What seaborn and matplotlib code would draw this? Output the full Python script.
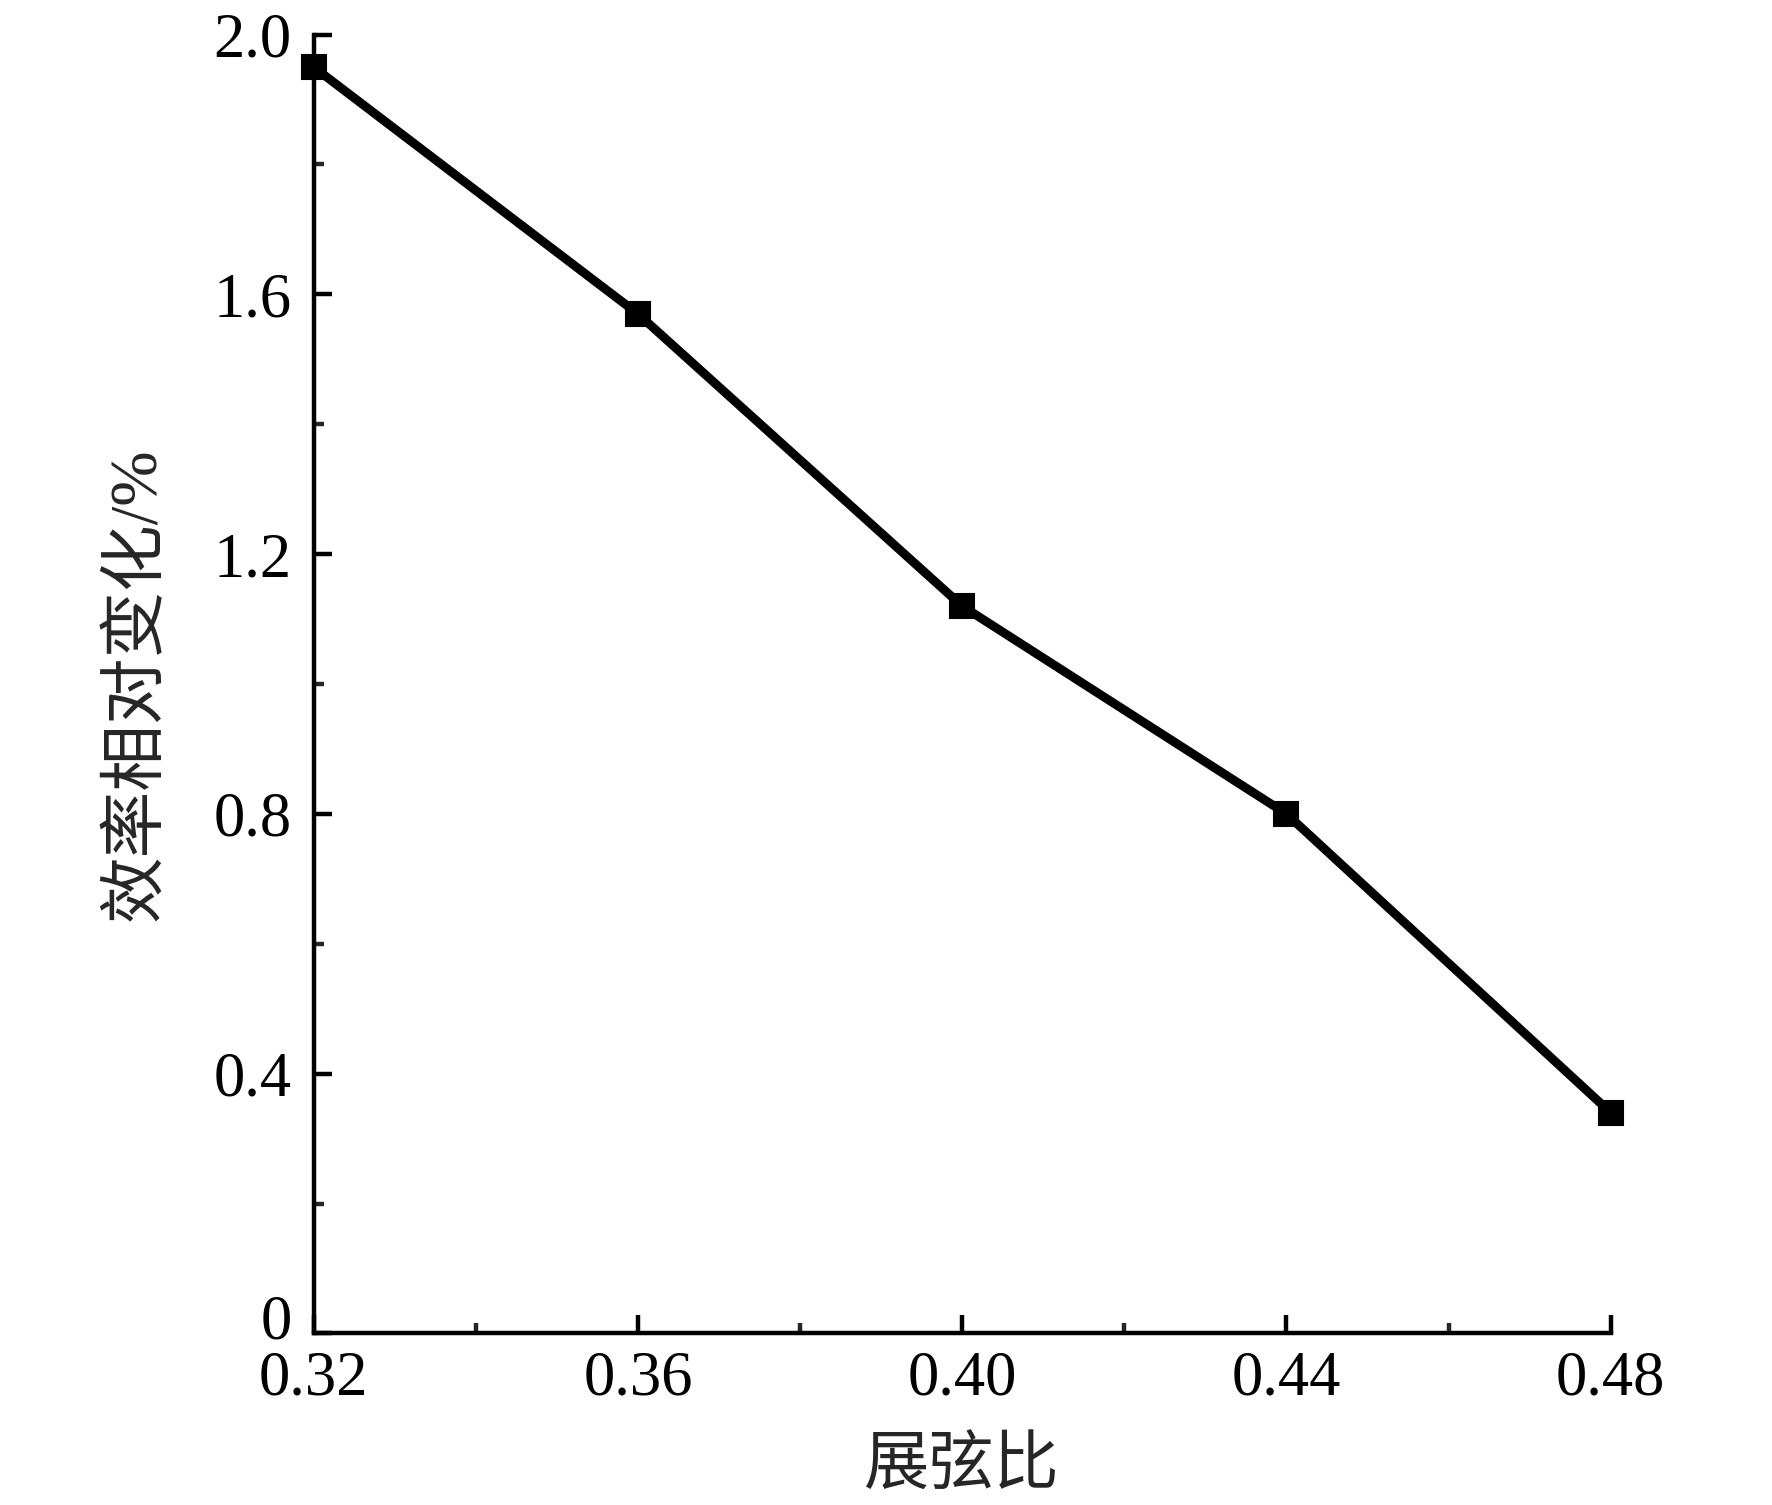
import matplotlib
matplotlib.use("Agg")
import matplotlib.pyplot as plt
import matplotlib.transforms as mtransforms
import seaborn as sns
import pandas as pd
from matplotlib.ticker import MultipleLocator, FixedLocator, FixedFormatter

aspect_ratio = [0.32, 0.36, 0.40, 0.44, 0.48]
efficiency_change = [1.95, 1.57, 1.12, 0.80, 0.34]
x_tick_labels = ["0.32", "0.36", "0.40", "0.44", "0.48"]
y_ticks = [0, 0.4, 0.8, 1.2, 1.6, 2.0]
y_tick_labels = ["0", "0.4", "0.8", "1.2", "1.6", "2.0"]

sns.set_style("ticks")
plt.rcParams['font.family'] = ['Liberation Serif', 'Noto Sans CJK SC', 'DejaVu Sans']
plt.rcParams['axes.unicode_minus'] = False

df = pd.DataFrame({"x": aspect_ratio, "y": efficiency_change})

fig = plt.figure(figsize=(8.86, 7.525), dpi=200)
ax = fig.add_axes([0.177, 0.114, 0.909 - 0.177, 0.977 - 0.114])

sns.lineplot(data=df, x="x", y="y", ax=ax, color="black", linewidth=3.2,
             marker="s", markersize=8.5, markeredgecolor="black", markerfacecolor="black",
             clip_on=False)

ax.set_xlim(0.32, 0.48)
ax.set_ylim(0, 2.0)
ax.xaxis.set_major_locator(FixedLocator(aspect_ratio))
ax.xaxis.set_major_formatter(FixedFormatter(x_tick_labels))
ax.xaxis.set_minor_locator(MultipleLocator(0.02))
ax.yaxis.set_major_locator(FixedLocator(y_ticks))
ax.yaxis.set_major_formatter(FixedFormatter(y_tick_labels))
ax.yaxis.set_minor_locator(MultipleLocator(0.2))

for s in ["top", "right"]:
    ax.spines[s].set_visible(False)
for s in ["left", "bottom"]:
    ax.spines[s].set_linewidth(1.6)
    ax.spines[s].set_color("black")

ax.tick_params(axis="both", which="major", direction="in", length=6.5, width=1.6,
               labelsize=22.5, colors="black")
ax.tick_params(axis="y", which="major", pad=8)
ax.tick_params(axis="x", which="major", pad=6)
ax.tick_params(axis="both", which="minor", direction="in", length=3.5, width=1.6)

# nudge the "0" y tick label up slightly so it clears the "0.32" label
for lbl in ax.get_yticklabels():
    if lbl.get_text() == "0":
        lbl.set_transform(lbl.get_transform() +
                          mtransforms.ScaledTranslation(0, 6 / 72, fig.dpi_scale_trans))

ax.set_xlabel("展弦比", fontsize=23.5, labelpad=11)
ax.set_ylabel("效率相对变化/%", fontsize=24, labelpad=16)

fig.savefig("out.png", dpi=200)
